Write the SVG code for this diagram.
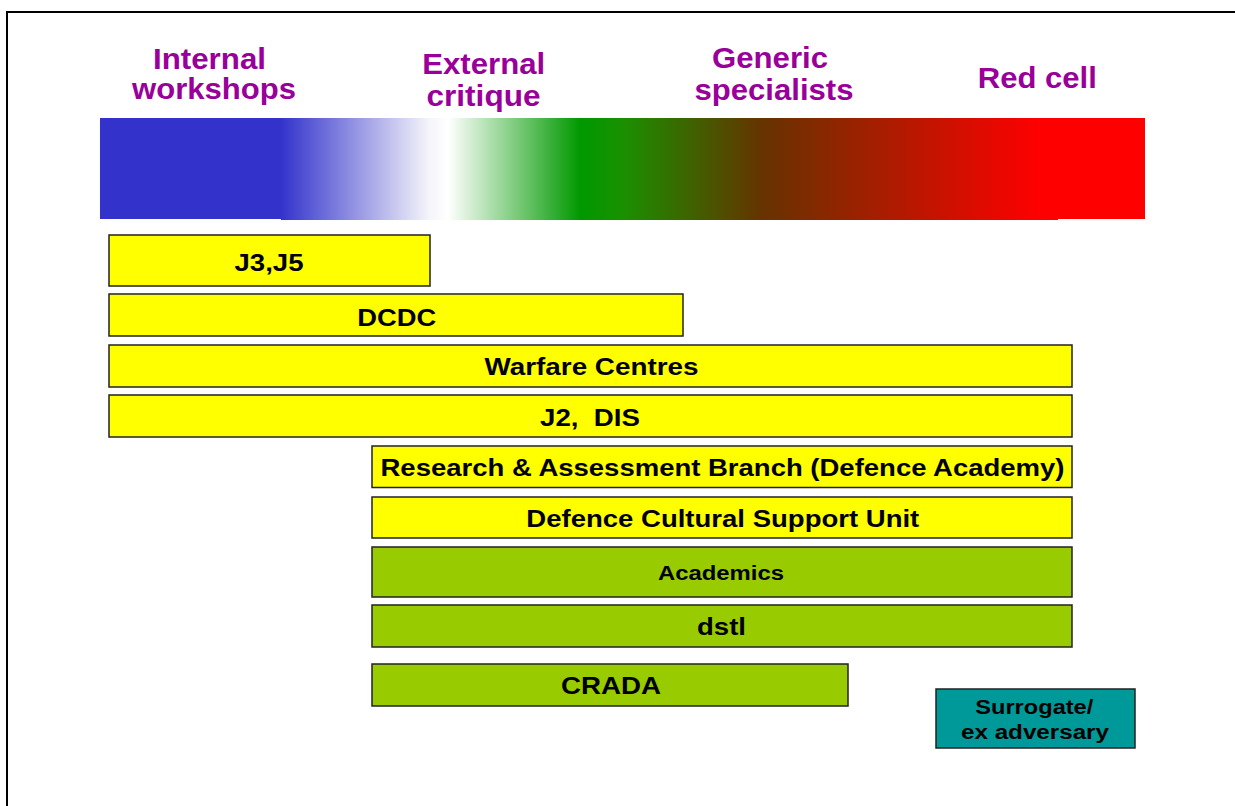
<svg xmlns="http://www.w3.org/2000/svg" width="1235" height="806" viewBox="0 0 1235 806">
<style>
.hdr{font-family:"Liberation Sans",Arial,sans-serif;font-weight:bold;font-size:29px;fill:#990099;text-anchor:middle}
.lbl{font-family:"Liberation Sans",Arial,sans-serif;font-weight:bold;font-size:23px;fill:#000;text-anchor:middle;white-space:pre}
.sm{font-size:20px}
.y{fill:#FFFF00;stroke:#222;stroke-width:1.5}
.g{fill:#99CC00;stroke:#222;stroke-width:1.5}
.t{fill:#009999;stroke:#222;stroke-width:1.5}
</style>
<defs>
<linearGradient id="spec" gradientUnits="userSpaceOnUse" x1="281" y1="0" x2="1058" y2="0">
<stop offset="0" stop-color="#3333CC"/>
<stop offset="0.19" stop-color="#F4F4FA"/>
<stop offset="0.215" stop-color="#FFFFFF"/>
<stop offset="0.385" stop-color="#009900"/>
<stop offset="0.44" stop-color="#1A9000"/>
<stop offset="0.62" stop-color="#663300"/>
<stop offset="0.977" stop-color="#FF0000"/>
<stop offset="1" stop-color="#FF0000"/>
</linearGradient>
</defs>
<rect width="1235" height="806" fill="#fff"/>
<g id="frame" stroke="#000" stroke-width="2" fill="none">
<line x1="7" y1="12" x2="1235" y2="12"/>
<line x1="7" y1="11" x2="7" y2="806"/>
</g>
<g id="spectrum">
<rect x="1040" y="118" width="105" height="101" fill="#FF0000"/>
<rect x="281" y="118" width="777" height="102" fill="url(#spec)"/>
<rect x="100" y="118" width="181" height="101" fill="#3333CC"/>
</g>
<g id="headers">
<text class="hdr" x="209.5" y="69" textLength="113" lengthAdjust="spacingAndGlyphs">Internal</text>
<text class="hdr" x="214" y="99" textLength="164" lengthAdjust="spacingAndGlyphs">workshops</text>
<text class="hdr" x="483.7" y="74" textLength="123" lengthAdjust="spacingAndGlyphs">External</text>
<text class="hdr" x="483.5" y="106" textLength="114" lengthAdjust="spacingAndGlyphs">critique</text>
<text class="hdr" x="770" y="68" textLength="116" lengthAdjust="spacingAndGlyphs">Generic</text>
<text class="hdr" x="774" y="100" textLength="159" lengthAdjust="spacingAndGlyphs">specialists</text>
<text class="hdr" x="1037.3" y="88" textLength="119" lengthAdjust="spacingAndGlyphs">Red cell</text>
</g>
<g id="j3j5"><rect class="y" x="109" y="235" width="321" height="51"/><text class="lbl" x="269" y="271" textLength="69" lengthAdjust="spacingAndGlyphs">J3,J5</text></g>
<g id="dcdc"><rect class="y" x="109" y="294" width="574" height="42"/><text class="lbl" x="396.7" y="326" textLength="79" lengthAdjust="spacingAndGlyphs">DCDC</text></g>
<g id="warfare"><rect class="y" x="109" y="345" width="963" height="42"/><text class="lbl" x="591.5" y="375" textLength="214" lengthAdjust="spacingAndGlyphs">Warfare Centres</text></g>
<g id="j2dis"><rect class="y" x="109" y="395" width="963" height="42"/><text class="lbl" x="590" y="426" textLength="100" lengthAdjust="spacingAndGlyphs" xml:space="preserve">J2,  DIS</text></g>
<g id="research"><rect class="y" x="372" y="446" width="700" height="41.5"/><text class="lbl" x="722.5" y="476" textLength="684" lengthAdjust="spacingAndGlyphs">Research &amp; Assessment Branch (Defence Academy)</text></g>
<g id="dcsu"><rect class="y" x="372" y="497" width="700" height="41"/><text class="lbl" x="722.8" y="527" textLength="393" lengthAdjust="spacingAndGlyphs">Defence Cultural Support Unit</text></g>
<g id="academics"><rect class="g" x="372" y="547" width="700" height="50"/><text class="lbl sm" x="721" y="580" textLength="126" lengthAdjust="spacingAndGlyphs">Academics</text></g>
<g id="dstl"><rect class="g" x="372" y="605" width="700" height="42"/><text class="lbl" x="721.5" y="635" textLength="49" lengthAdjust="spacingAndGlyphs">dstl</text></g>
<g id="crada"><rect class="g" x="372" y="664" width="476" height="42"/><text class="lbl" x="611" y="694" textLength="100" lengthAdjust="spacingAndGlyphs">CRADA</text></g>
<g id="surrogate"><rect class="t" x="936" y="689" width="199" height="59"/><text class="lbl sm" x="1034.3" y="714" textLength="118" lengthAdjust="spacingAndGlyphs">Surrogate/</text><text class="lbl sm" x="1035" y="739" textLength="148" lengthAdjust="spacingAndGlyphs">ex adversary</text></g>
</svg>
